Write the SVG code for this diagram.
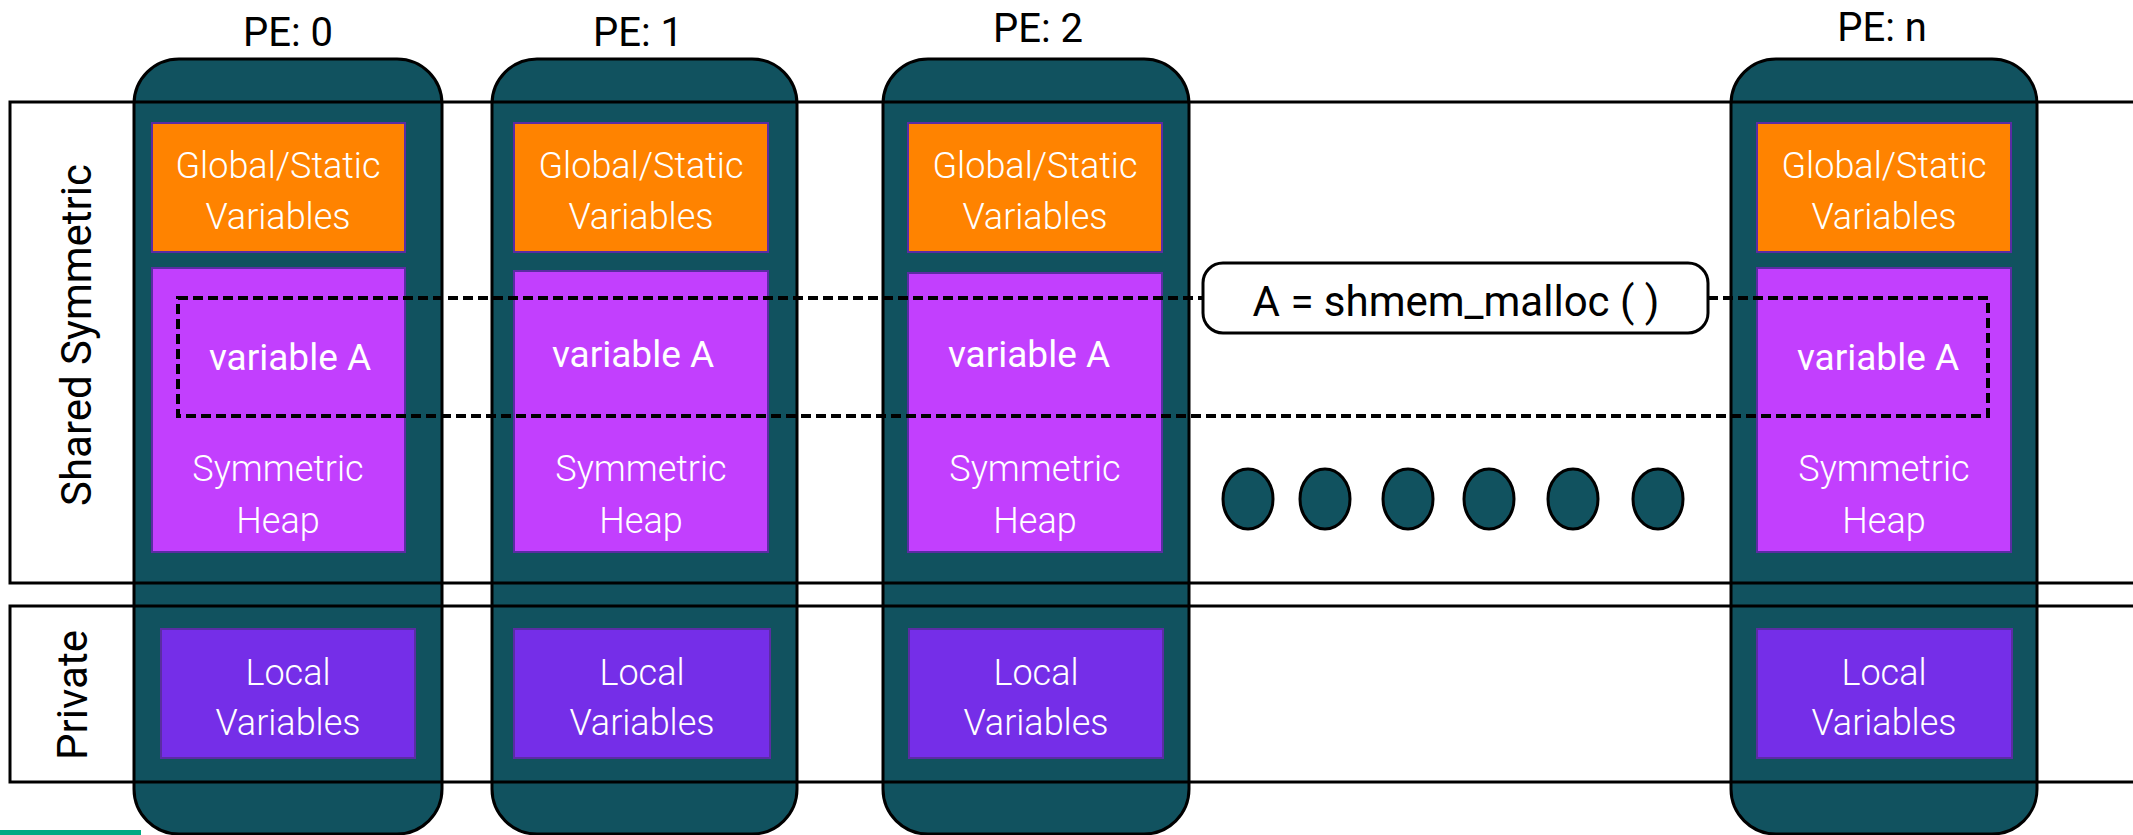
<svg xmlns="http://www.w3.org/2000/svg" width="2133" height="835" viewBox="0 0 2133 835">
<style>
.col{fill:#11525f;stroke:#000;stroke-width:3}
.glob{fill:#ff8300;stroke:#5b2ca3;stroke-width:2}
.heap{fill:#c23ffe;stroke:#5b2ca3;stroke-width:2}
.loc{fill:#752ee8;stroke:#5b2ca3;stroke-width:2}
.sec{fill:none;stroke:#000;stroke-width:3}
.wt{fill:#fff;font-family:Roboto,"Liberation Sans",sans-serif;font-weight:300;font-size:36px;text-anchor:middle}
.wv{fill:#fff;font-family:Roboto,"Liberation Sans",sans-serif;font-weight:400;font-size:37px;text-anchor:middle}
.bt{fill:#000;font-family:Roboto,"Liberation Sans",sans-serif;font-weight:400;font-size:40px;text-anchor:middle}
.st{fill:#000;font-family:Roboto,"Liberation Sans",sans-serif;font-weight:400;font-size:42px;text-anchor:middle}
.dash{fill:none;stroke:#000;stroke-width:4;stroke-dasharray:10 5}
</style>

<g id="pe0">
<rect class="col" x="134" y="59" width="308" height="775" rx="45"/>
<rect class="glob" x="152" y="123" width="253" height="129"/>
<rect class="heap" x="152" y="268" width="253" height="284"/>
<rect class="loc" x="161" y="629" width="254" height="129"/>
<text class="bt" x="288" y="46">PE: 0</text>
<text class="wt" x="278" y="178">Global/Static</text>
<text class="wt" x="278" y="229">Variables</text>
<text class="wv" x="290" y="370">variable A</text>
<text class="wt" x="278" y="481">Symmetric</text>
<text class="wt" x="278" y="533">Heap</text>
<text class="wt" x="288" y="685">Local</text>
<text class="wt" x="288" y="735">Variables</text>
</g>

<g id="pe1">
<rect class="col" x="492" y="59" width="305" height="775" rx="45"/>
<rect class="glob" x="514" y="123" width="254" height="129"/>
<rect class="heap" x="514" y="271" width="254" height="281"/>
<rect class="loc" x="514" y="629" width="256" height="129"/>
<text class="bt" x="638" y="46">PE: 1</text>
<text class="wt" x="641" y="178">Global/Static</text>
<text class="wt" x="641" y="229">Variables</text>
<text class="wv" x="633" y="367">variable A</text>
<text class="wt" x="641" y="481">Symmetric</text>
<text class="wt" x="641" y="533">Heap</text>
<text class="wt" x="642" y="685">Local</text>
<text class="wt" x="642" y="735">Variables</text>
</g>

<g id="pe2">
<rect class="col" x="883" y="59" width="306" height="775" rx="45"/>
<rect class="glob" x="908" y="123" width="254" height="129"/>
<rect class="heap" x="908" y="273" width="254" height="279"/>
<rect class="loc" x="909" y="629" width="254" height="129"/>
<text class="bt" x="1038" y="42">PE: 2</text>
<text class="wt" x="1035" y="178">Global/Static</text>
<text class="wt" x="1035" y="229">Variables</text>
<text class="wv" x="1029" y="367">variable A</text>
<text class="wt" x="1035" y="481">Symmetric</text>
<text class="wt" x="1035" y="533">Heap</text>
<text class="wt" x="1036" y="685">Local</text>
<text class="wt" x="1036" y="735">Variables</text>
</g>

<g id="pen">
<rect class="col" x="1731" y="59" width="306" height="775" rx="45"/>
<rect class="glob" x="1757" y="123" width="254" height="129"/>
<rect class="heap" x="1757" y="268" width="254" height="284"/>
<rect class="loc" x="1757" y="629" width="255" height="129"/>
<text class="bt" x="1882" y="41">PE: n</text>
<text class="wt" x="1884" y="178">Global/Static</text>
<text class="wt" x="1884" y="229">Variables</text>
<text class="wv" x="1878" y="370">variable A</text>
<text class="wt" x="1884" y="481">Symmetric</text>
<text class="wt" x="1884" y="533">Heap</text>
<text class="wt" x="1884" y="685">Local</text>
<text class="wt" x="1884" y="735">Variables</text>
</g>

<g id="ellipsis">
<ellipse class="col" cx="1248" cy="499" rx="25" ry="30"/>
<ellipse class="col" cx="1325" cy="499" rx="25" ry="30"/>
<ellipse class="col" cx="1408" cy="499" rx="25" ry="30"/>
<ellipse class="col" cx="1489" cy="499" rx="25" ry="30"/>
<ellipse class="col" cx="1573" cy="499" rx="25" ry="30"/>
<ellipse class="col" cx="1658" cy="499" rx="25" ry="30"/>
</g>

<g id="shared-symmetric">
<rect class="sec" x="10" y="102" width="2200" height="481"/>
<text class="st" transform="translate(91,335) rotate(-90)">Shared Symmetric</text>
</g>

<g id="private">
<rect class="sec" x="10" y="606" width="2200" height="176"/>
<text class="st" transform="translate(87,695) rotate(-90)">Private</text>
</g>

<g id="connectors">
<rect class="dash" x="178" y="298" width="1810" height="118"/>
</g>

<g id="callout">
<rect x="1203" y="263" width="505" height="70" rx="20" fill="#fff" stroke="#000" stroke-width="3"/>
<text class="st" x="1456" y="316">A = shmem_malloc ( )</text>
</g>

<rect id="accent-bar" x="0" y="830" width="141" height="5" fill="#01a982"/>
</svg>
